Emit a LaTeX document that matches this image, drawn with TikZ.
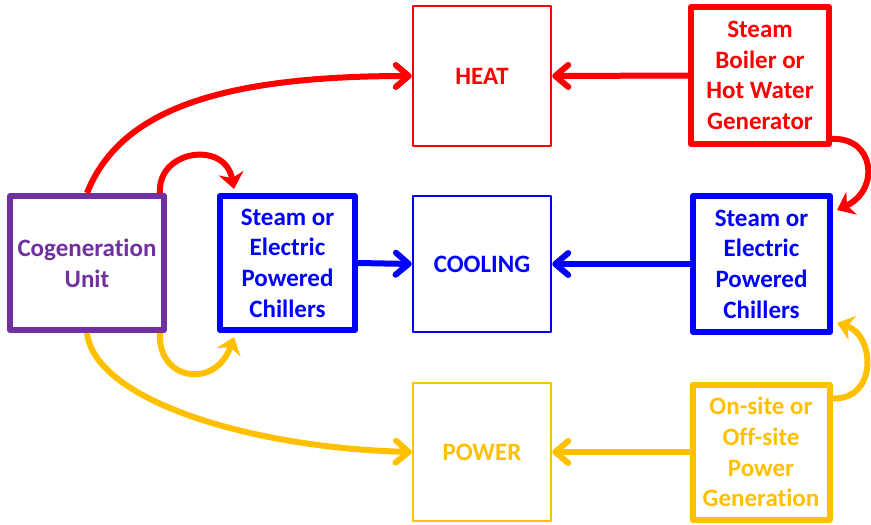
\documentclass[tikz,border=0pt]{standalone}
\usepackage{fontspec}
\setmainfont{Carlito}[Ligatures=NoCommon]
\usetikzlibrary{arrows.meta,calc}
\definecolor{cred}{HTML}{FF0000}
\definecolor{cblue}{HTML}{0000FF}
\definecolor{cpurple}{HTML}{7030A0}
\definecolor{cyellow}{HTML}{FFC000}
\begin{document}
\begin{tikzpicture}[x=1pt,y=-1pt,
  box/.style={draw=#1, text=#1, fill=white, inner sep=0pt, align=center, line join=round,
    font=\bfseries\fontsize{25}{30.7}\selectfont},
  tbox/.style={box=#1, line width=6pt},
  sbox/.style={box=#1, line width=2.5pt},
  arr/.style={color=#1, line width=6pt, -{Straight Barb[length=13pt,width=22pt,round]}},
  carr/.style={color=#1, line width=6pt, -{Stealth[length=16pt,width=25pt,inset=5pt]}}]
\useasboundingbox (0,0) rectangle (871,525);

\node[tbox=cpurple, minimum width=154, minimum height=134] (cogen) at (87,263) {Cogeneration\\Unit};
\node[tbox=cblue, minimum width=135, minimum height=134] (chill1) at (287.5,263) {Steam or\\Electric\\Powered\\Chillers};
\node[sbox=cblue, minimum width=138, minimum height=136] (cool) at (482,264) {COOLING};
\node[sbox=cred, minimum width=138, minimum height=140] (heat) at (482,76) {HEAT};
\node[tbox=cred, minimum width=138, minimum height=137] (boiler) at (760,75.5) {Steam\\Boiler or\\Hot Water\\Generator};
\node[tbox=cblue, minimum width=137, minimum height=136] (chill2) at (761.5,264) {Steam or\\Electric\\Powered\\Chillers};
\node[sbox=cyellow, minimum width=138, minimum height=138] (power) at (482,452) {POWER};
\node[tbox=cyellow, minimum width=137, minimum height=135] (onsite) at (761,452) {On-site or\\Off-site\\Power\\Generation};

% straight connectors
\draw[arr=cblue] (chill1.east) -- (cool.west);
\draw[arr=cblue] (chill2.west) -- (cool.east);
\draw[arr=cred] (boiler.west) -- (heat.east);
\draw[arr=cyellow] (onsite.west) -- (power.east);

% long curves from the cogeneration unit
\draw[arr=cred] (cogen.north) .. controls (120,110) and (220,76) .. (heat.west);
\draw[arr=cyellow] (cogen.south) .. controls (95,400) and (250,448) .. (power.west);

% small loops
\draw[carr=cred] ($(cogen.north east)+(-7,0)$) .. controls (157,150) and (225,140) .. ($(chill1.north west)+(17,-4)$);
\draw[carr=cyellow] ($(cogen.south east)+(-7,0)$) .. controls (157,380) and (215,390) .. ($(chill1.south west)+(17,4)$);
\draw[carr=cred] ($(boiler.south east)+(0,-8)$) .. controls (875,137) and (880,190) .. ($(chill2.north east)+(4,17)$);
\draw[carr=cyellow] ($(onsite.north east)+(0,17)$) .. controls (878,400) and (875,335) .. ($(chill2.south east)+(4,-12)$);
\end{tikzpicture}
\end{document}
